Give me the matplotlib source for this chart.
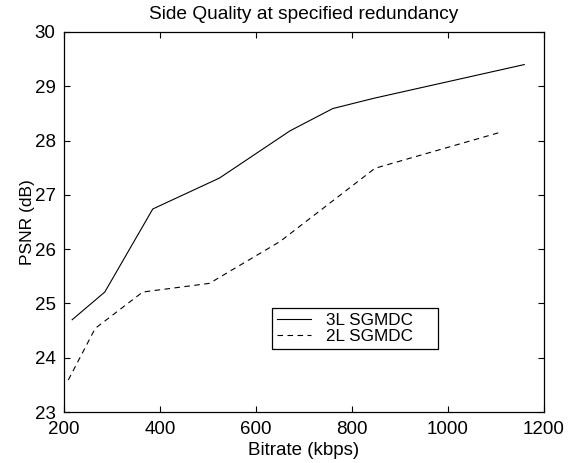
import matplotlib.pyplot as plt

# data
bitrate_3l = [217, 285, 385, 524, 671, 760, 846, 1159]
psnr_3l = [24.70, 25.21, 26.74, 27.31, 28.18, 28.59, 28.78, 29.40]
bitrate_2l = [209, 265, 364, 503, 650, 848, 1112]
psnr_2l = [23.59, 24.54, 25.21, 25.37, 26.14, 27.49, 28.16]

plt.rcParams['font.family'] = ['Liberation Sans', 'DejaVu Sans']
fs = 13.5

fig = plt.figure(figsize=(5.78, 4.63), dpi=100)
ax = fig.add_axes([0.1107, 0.1101, 0.8304, 0.8208])

ax.plot(bitrate_3l, psnr_3l, 'k-', lw=0.8, label='3L SGMDC')
ax.plot(bitrate_2l, psnr_2l, 'k--', lw=0.8, dashes=(5, 4), label='2L SGMDC')

ax.set_xlim(200, 1200)
ax.set_ylim(23, 30)
ax.set_xticks(range(200, 1201, 200))
ax.set_yticks(range(23, 31))
ax.tick_params(direction='in', top=True, right=True, labelsize=fs, length=4, width=0.8)
ax.tick_params(axis='y', pad=6)
ax.tick_params(axis='x', pad=6.5)
for s in ax.spines.values():
    s.set_linewidth(0.9)

ax.set_xlabel('Bitrate (kbps)', fontsize=fs, labelpad=2.5)
ax.set_ylabel('PSNR (dB)', fontsize=12.5, labelpad=0)
ax.set_title('Side Quality at specified redundancy', fontsize=13.8, pad=9.5)

leg = ax.legend(loc='lower left', bbox_to_anchor=(0.433, 0.166, 0.346, 0.129), mode='expand',
                fontsize=12.3, fancybox=False, edgecolor='black', framealpha=1,
                borderpad=0.3, labelspacing=0.05, handlelength=2.0, handletextpad=0.9,
                borderaxespad=0)
leg.get_frame().set_linewidth(0.9)

fig.savefig('out.png', dpi=100)
